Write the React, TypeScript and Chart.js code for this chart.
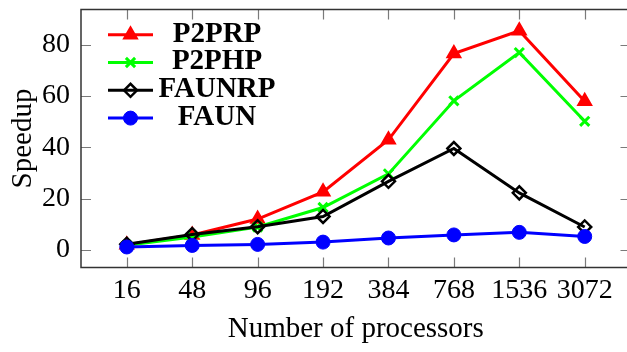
import React, { useEffect, useRef } from 'react';
import { Chart, registerables } from 'chart.js';
import { drawPoint } from 'chart.js/helpers';

Chart.register(...registerables);

const categories = ['16', '48', '96', '192', '384', '768', '1536', '3072'];
const p2prp = [2.0, 5.8, 12.0, 22.6, 42.9, 76.5, 85.4, 57.9];
const p2php = [1.8, 5.0, 8.9, 16.5, 29.6, 58.1, 76.9, 50.1];
const faunrp = [2.2, 6.0, 9.0, 13.0, 26.7, 39.5, 22.2, 8.9];
const faun = [1.1, 1.7, 2.1, 3.0, 4.6, 5.8, 6.8, 5.2];
const yTicks = [0, 20, 40, 60, 80];
const seriesNames = ['P2PRP', 'P2PHP', 'FAUNRP', 'FAUN'];
const xTitle = 'Number of processors';
const yTitle = 'Speedup';

const FONT = "'Liberation Serif', 'Times New Roman', serif";

const framePlugin = {
  id: 'frame',
  beforeDatasetsDraw(chart: any) {
    const { ctx, chartArea } = chart;
    const { left, right, top, bottom } = chartArea;
    const xs = chart.scales.x;
    const ys = chart.scales.y;
    ctx.save();
    ctx.strokeStyle = '#7a7a7a';
    ctx.lineWidth = 1.2;
    const tl = 10;
    xs.ticks.forEach((t: any) => {
      const px = Math.round(xs.getPixelForValue(t.value)) + 0.5;
      ctx.beginPath();
      ctx.moveTo(px, bottom);
      ctx.lineTo(px, bottom - tl);
      ctx.moveTo(px, top);
      ctx.lineTo(px, top + tl);
      ctx.stroke();
    });
    ys.ticks.forEach((t: any) => {
      const py = Math.round(ys.getPixelForValue(t.value)) + 0.5;
      ctx.beginPath();
      ctx.moveTo(left, py);
      ctx.lineTo(left + tl, py);
      ctx.moveTo(right, py);
      ctx.lineTo(right - tl, py);
      ctx.stroke();
    });
    ctx.strokeStyle = '#333333';
    ctx.lineWidth = 1.5;
    ctx.strokeRect(left, top, right - left, bottom - top);
    ctx.restore();
  },
};

const legendPlugin = {
  id: 'customLegend',
  afterDatasetsDraw(chart: any) {
    const { ctx } = chart;
    ctx.save();
    chart.data.datasets.forEach((ds: any, i: number) => {
      const y = 34.7 + i * 27.8;
      ctx.strokeStyle = ds.borderColor;
      ctx.lineWidth = ds.borderWidth;
      ctx.beginPath();
      ctx.moveTo(108, y);
      ctx.lineTo(153, y);
      ctx.stroke();
      ctx.fillStyle = ds.pointBackgroundColor;
      ctx.strokeStyle = ds.pointBorderColor;
      ctx.lineWidth = ds.pointBorderWidth;
      drawPoint(ctx, { pointStyle: ds.pointStyle, radius: ds.pointRadius, borderWidth: ds.pointBorderWidth, rotation: 0 } as any, 130.5, y);
      ctx.fillStyle = '#000';
      ctx.font = `bold 29px ${FONT}`;
      ctx.textAlign = 'center';
      ctx.textBaseline = 'middle';
      ctx.fillText(ds.label, 217, y - 0.5);
    });
    ctx.restore();
  },
};

export default function App() {
  const ref = useRef<HTMLCanvasElement>(null);

  useEffect(() => {
    if (!ref.current) return;
    const toXY = (arr: number[]) => arr.map((v, i) => ({ x: i, y: v }));
    const chart = new Chart(ref.current, {
      type: 'line',
      data: {
        datasets: [
          {
            label: seriesNames[0],
            data: toXY(p2prp),
            borderColor: '#ff0000',
            borderWidth: 3,
            pointStyle: 'triangle',
            pointRadius: 7.5,
            pointBackgroundColor: '#ff0000',
            pointBorderColor: '#ff0000',
            pointBorderWidth: 2,
            order: 3,
          },
          {
            label: seriesNames[1],
            data: toXY(p2php),
            borderColor: '#00ff00',
            borderWidth: 3,
            pointStyle: 'crossRot',
            pointRadius: 6.5,
            pointBackgroundColor: '#00ff00',
            pointBorderColor: '#00ff00',
            pointBorderWidth: 3,
            order: 2,
          },
          {
            label: seriesNames[2],
            data: toXY(faunrp),
            borderColor: '#000000',
            borderWidth: 3,
            pointStyle: 'rectRot',
            pointRadius: 6.5,
            pointBackgroundColor: 'rgba(0,0,0,0)',
            pointBorderColor: '#000000',
            pointBorderWidth: 2.5,
            order: 1,
          },
          {
            label: seriesNames[3],
            data: toXY(faun),
            borderColor: '#0000ff',
            borderWidth: 3,
            pointStyle: 'circle',
            pointRadius: 7,
            pointBackgroundColor: '#0000ff',
            pointBorderColor: '#0000ff',
            pointBorderWidth: 1,
            order: 0,
          },
        ] as any,
      },
      options: {
        animation: false,
        responsive: false,
        devicePixelRatio: 1,
        layout: { padding: { top: 4, right: 6, left: 0, bottom: 0 } },
        plugins: { legend: { display: false }, tooltip: { enabled: false } },
        scales: {
          x: {
            type: 'linear',
            min: -0.7,
            max: 7.7,
            grid: { display: false, drawTicks: false },
            border: { display: false },
            afterBuildTicks: (s: any) => {
              s.ticks = categories.map((_, i) => ({ value: i }));
            },
            afterFit: (s: any) => {
              s.height = 84.5;
              s.paddingLeft = 0;
              s.paddingRight = 0;
            },
            ticks: {
              autoSkip: false,
              maxRotation: 0,
              padding: 6,
              color: '#000',
              font: { family: FONT, size: 28 },
              callback: (v: any) => categories[v as number],
            },
            title: {
              display: true,
              text: xTitle,
              color: '#000',
              font: { family: FONT, size: 29 },
              padding: { top: 0, bottom: 5.6 },
            },
          },
          y: {
            type: 'linear',
            min: -6.9,
            max: 93.7,
            grid: { display: false, drawTicks: false },
            border: { display: false },
            afterBuildTicks: (s: any) => {
              s.ticks = yTicks.map((v) => ({ value: v }));
            },
            afterFit: (s: any) => {
              s.width = 81;
              s.paddingTop = 0;
              s.paddingBottom = 0;
            },
            ticks: {
              padding: 11,
              color: '#000',
              font: { family: FONT, size: 28 },
            },
            title: {
              display: true,
              text: yTitle,
              color: '#000',
              font: { family: FONT, size: 29 },
              padding: { top: 5.6, bottom: 0 },
            },
          },
        },
      } as any,
      plugins: [framePlugin, legendPlugin],
    });
    return () => chart.destroy();
  }, []);

  return (
    <div style={{ position: 'fixed', left: 0, top: 0, width: 627, height: 352, overflow: 'hidden', background: '#fff' }}>
      <canvas ref={ref} width={640} height={352} style={{ display: 'block', width: 640, height: 352 }} />
    </div>
  );
}
